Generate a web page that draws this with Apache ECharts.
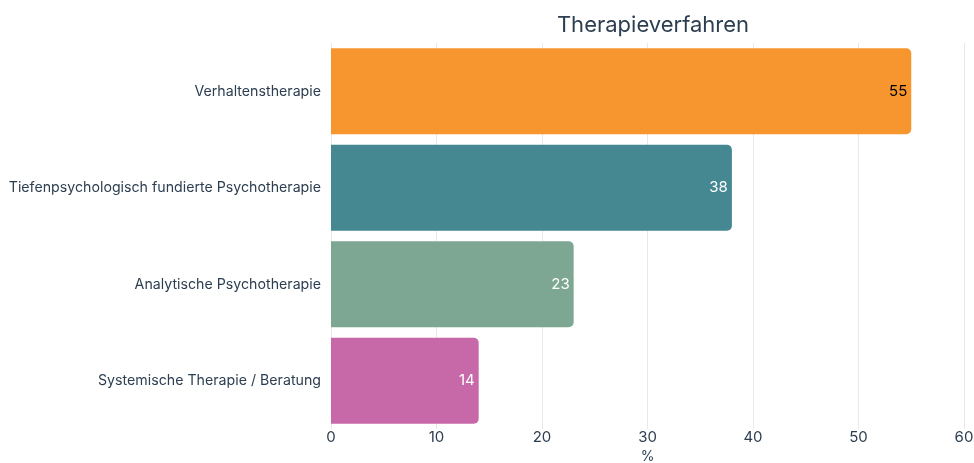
<!DOCTYPE html>
<html><head><meta charset="utf-8">
<script src="https://cdn.jsdelivr.net/npm/echarts@6/dist/echarts.min.js"></script>
<style>html,body{margin:0;padding:0;background:#fff;overflow:hidden}#c{width:974px;height:463px}</style>
</head><body><div id="c"></div>
<script>
const categories = ['Verhaltenstherapie','Tiefenpsychologisch fundierte Psychotherapie','Analytische Psychotherapie','Systemische Therapie / Beratung'];
const values = [55, 38, 23, 14];
const colors = ['#F7962E','#468892','#7EA793','#C769A8'];
const labelColors = ['#000000','#ffffff','#ffffff','#ffffff'];
const xTicks = [0,10,20,30,40,50,60];
const textColor = '#2C3E50';
const chart = echarts.init(document.getElementById('c'));
chart.setOption({
  animation:false,
  textStyle:{fontFamily:'Inter'},
  title:{text:'Therapieverfahren',left:648,top:9,textAlign:'center',textStyle:{fontFamily:'Inter',fontSize:22,fontWeight:'normal',color:textColor}},
  grid:{left:331,right:10,top:43,bottom:34,containLabel:false,outerBoundsMode:'none'},
  xAxis:{type:'value',min:0,max:60,interval:10,name:'%',nameLocation:'middle',nameGap:21,
    nameTextStyle:{fontFamily:'Inter',fontSize:14,color:textColor},
    axisLine:{show:false},axisTick:{show:false},
    axisLabel:{fontFamily:'Inter',fontSize:15,color:textColor,margin:1},
    splitLine:{show:true,lineStyle:{color:'#E8E8E8',width:1}}},
  yAxis:{type:'category',data:categories,inverse:true,
    axisLine:{show:false},axisTick:{show:false},
    axisLabel:{fontFamily:'Inter',fontSize:14.2,color:textColor,margin:10}},
  series:[{type:'bar',barCategoryGap:'11%',
    data:values.map((v,i)=>({value:v,itemStyle:{color:colors[i],borderRadius:[0,5,5,0]},
      label:{color:labelColors[i]}})),
    label:{show:true,position:'insideRight',distance:4,fontFamily:'Inter',fontSize:15}}]
});
</script></body></html>
